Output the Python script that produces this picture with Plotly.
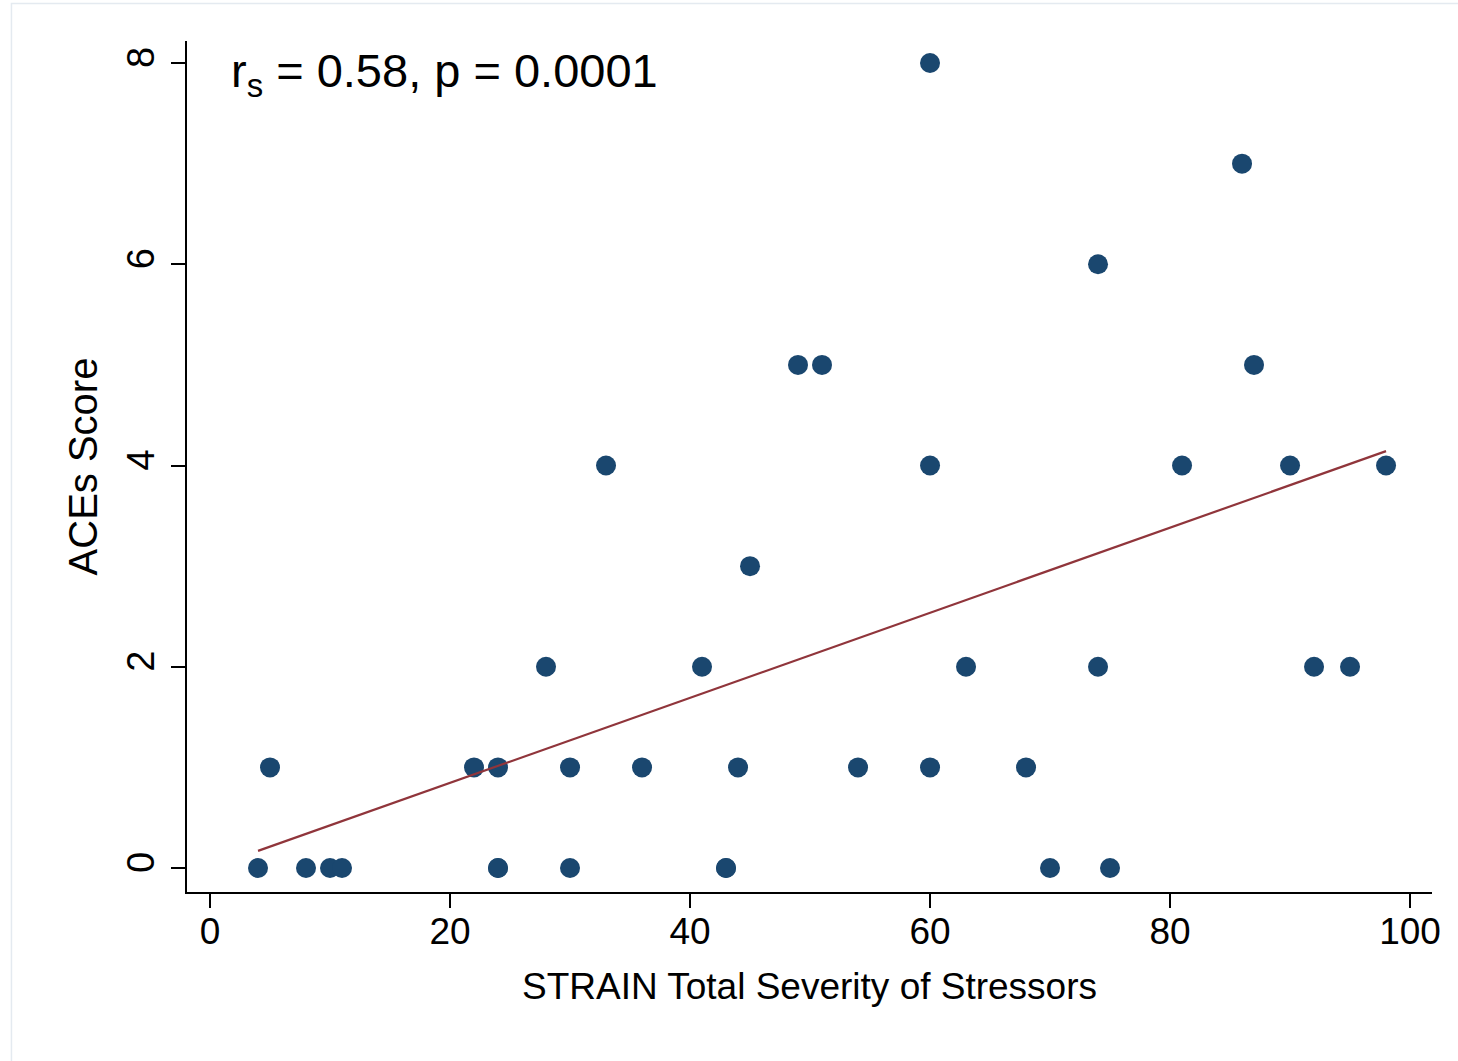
import numpy as np
import plotly.graph_objects as go

# STRAIN total severity of stressors vs. ACEs score (one entry per participant)
strain_severity = [4, 5, 8, 10, 11, 22, 24, 24, 24, 28, 30, 30, 33, 36, 41, 43, 43, 44, 45,
                   49, 51, 54, 60, 60, 60, 63, 68, 70, 74, 74, 75, 81, 86, 87, 90, 92, 95, 98]
aces_score = [0, 1, 0, 0, 0, 1, 1, 0, 0, 2, 1, 0, 4, 1, 2, 0, 0, 1, 3,
              5, 5, 1, 8, 4, 1, 2, 1, 0, 6, 2, 0, 4, 7, 5, 4, 2, 2, 4]

x_ticks = [0, 20, 40, 60, 80, 100]
y_ticks = [0, 2, 4, 6, 8]
stat_label = "r<sub>s</sub> = 0.58, p = 0.0001"

# Linear fit drawn across the observed range
slope, intercept = np.polyfit(strain_severity, aces_score, 1)
fit_x = np.array([min(strain_severity), max(strain_severity)])
fit_y = intercept + slope * fit_x

FONT = "Liberation Sans, Arial, Helvetica, sans-serif"
NAVY = "#1a476f"
MAROON = "#90353b"

fig = go.Figure()
fig.add_trace(go.Scatter(
    x=strain_severity, y=aces_score, mode="markers",
    marker=dict(size=20, color=NAVY, line=dict(width=0)),
    showlegend=False, hoverinfo="x+y",
))
fig.add_trace(go.Scatter(
    x=fit_x, y=fit_y, mode="lines",
    line=dict(color=MAROON, width=2.2),
    showlegend=False, hoverinfo="skip",
))

fig.update_layout(
    width=1458, height=1061,
    margin=dict(l=187, r=26, t=41, b=169, autoexpand=False),
    paper_bgcolor="white", plot_bgcolor="white",
    font=dict(family=FONT, color="black"),
    xaxis=dict(
        range=[-1.917, 101.83], tickvals=x_ticks, ticktext=[str(v) for v in x_ticks],
        showgrid=False, zeroline=False, showline=True, linecolor="black", linewidth=2,
        ticks="outside", ticklen=14, tickwidth=2, tickcolor="black",
        tickfont=dict(size=37, family=FONT), ticklabelstandoff=-8,
        title=dict(text="STRAIN Total Severity of Stressors", font=dict(size=37, family=FONT), standoff=22),
        automargin=False,
    ),
    yaxis=dict(
        range=[-0.2385, 8.219], tickvals=y_ticks, ticktext=[str(v) for v in y_ticks],
        showgrid=False, zeroline=False, showline=True, linecolor="black", linewidth=2,
        ticks="outside", ticklen=14, tickwidth=2, tickcolor="black", tickangle=-90,
        tickfont=dict(size=38, family=FONT), ticklabelstandoff=2,
        title=dict(text="ACEs Score", font=dict(size=40, family=FONT), standoff=10),
        automargin=False,
    ),
    annotations=[dict(
        text=stat_label, xref="paper", yref="paper", x=0.0337, y=0.961,
        xanchor="left", yanchor="middle", showarrow=False,
        font=dict(size=47, family=FONT, color="black"),
    )],
    shapes=[dict(
        type="rect", xref="paper", yref="paper", layer="below",
        x0=-0.141, y0=-0.21, x1=1.04, y1=1.0441,
        line=dict(color="#e4eaf0", width=1.5), fillcolor="rgba(0,0,0,0)",
    )],
)

fig.write_html("out.html")
